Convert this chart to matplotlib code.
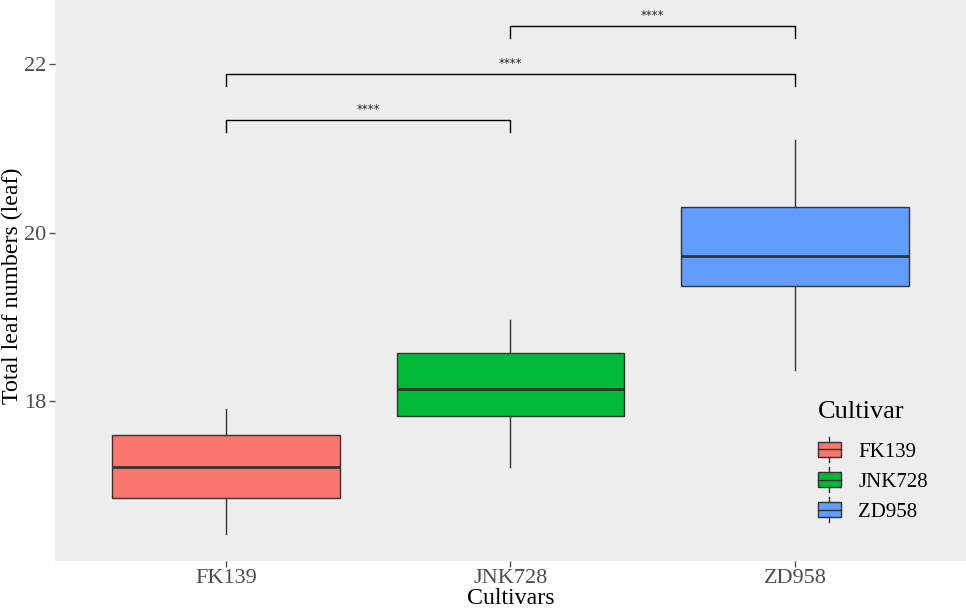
import numpy as np
import matplotlib.pyplot as plt
from matplotlib.patches import Rectangle
from matplotlib.lines import Line2D
from matplotlib.legend_handler import HandlerBase

plt.rcParams['font.family'] = ['Liberation Serif', 'DejaVu Serif']

# datos
cultivares = ['FK139', 'JNK728', 'ZD958']
colores = ['#F8766D', '#00BA38', '#619CFF']
bigote_inf = [16.42, 17.22, 18.37]
q1 = [16.85, 17.82, 19.37]
mediana = [17.22, 18.14, 19.72]
q3 = [17.60, 18.57, 20.31]
bigote_sup = [17.90, 18.96, 21.10]

# comparaciones (grupo1, grupo2, altura)
comp_a = [1, 1, 2]
comp_b = [2, 3, 3]
comp_y = [21.34, 21.88, 22.45]
comp_txt = ['****', '****', '****']

fig = plt.figure(figsize=(9.66, 6.09), dpi=100)
ax = fig.add_axes([0.0569, 0.0793, 0.9431, 0.9207])
ax.set_facecolor('#EDEDED')

stats = []
for i in range(3):
    stats.append(dict(med=mediana[i], q1=q1[i], q3=q3[i], whislo=bigote_inf[i],
                      whishi=bigote_sup[i], fliers=[]))
bp = ax.bxp(stats, positions=[1, 2, 3], widths=0.8, patch_artist=True, showcaps=False,
            boxprops=dict(edgecolor='#333333', linewidth=1.0),
            whiskerprops=dict(color='#333333', linewidth=1.0),
            medianprops=dict(color='#333333', linewidth=2.0))
for caja, c in zip(bp['boxes'], colores):
    caja.set_facecolor(c)

# corchetes de significancia
alto = 0.14
for a, b, y, t in zip(comp_a, comp_b, comp_y, comp_txt):
    ax.plot([a, a, b, b], [y - alto, y, y, y - alto], color='black', linewidth=1.0)
    ax.text((a + b) / 2, y + 0.05, t, ha='center', va='bottom', fontsize=8.5,
            family='DejaVu Sans', color='#222222')

ax.set_xlim(0.4, 3.6)
ax.set_ylim(16.102, 22.764)
ax.set_xticks([1, 2, 3])
ax.set_xticklabels(cultivares)
ax.set_yticks([18, 20, 22])
ax.tick_params(colors='#4D4D4D', labelsize=16, length=4, width=1, pad=2)
for s in ax.spines.values():
    s.set_visible(False)
ax.set_xlabel('Cultivars', fontsize=17.2, labelpad=0)
ax.set_ylabel('Total leaf numbers (leaf)', fontsize=17.2)
ax.yaxis.set_label_coords(-0.0355, 0.49)


class CajaLeyenda(HandlerBase):
    def create_artists(self, legend, orig, xd, yd, w, h, fontsize, trans):
        cx = xd + w / 2
        rect = Rectangle((xd, yd), w, h, facecolor=orig.get_facecolor(),
                         edgecolor='#333333', linewidth=1.0, transform=trans)
        med = Line2D([xd, xd + w], [yd + h / 2] * 2, color='#333333', linewidth=1.0, transform=trans)
        w1 = Line2D([cx, cx], [yd + h, yd + h * 1.35], color='#333333', linewidth=1.0, transform=trans)
        w2 = Line2D([cx, cx], [yd - h * 0.35, yd], color='#333333', linewidth=1.0, transform=trans)
        return [rect, med, w1, w2]


manejadores = [Rectangle((0, 0), 1, 1, facecolor=c) for c in colores]
leg = ax.legend(manejadores, cultivares, title='Cultivar', loc='upper left',
                bbox_to_anchor=(0.8376, 0.285), frameon=False, fontsize=15,
                title_fontsize=19, handler_map={Rectangle: CajaLeyenda()},
                handlelength=1.08, handleheight=0.72, labelspacing=0.5,
                handletextpad=0.85, borderpad=0, borderaxespad=0)
leg._legend_box.align = 'left'
leg._legend_box.sep = 14

fig.savefig('out.png', dpi=100)
